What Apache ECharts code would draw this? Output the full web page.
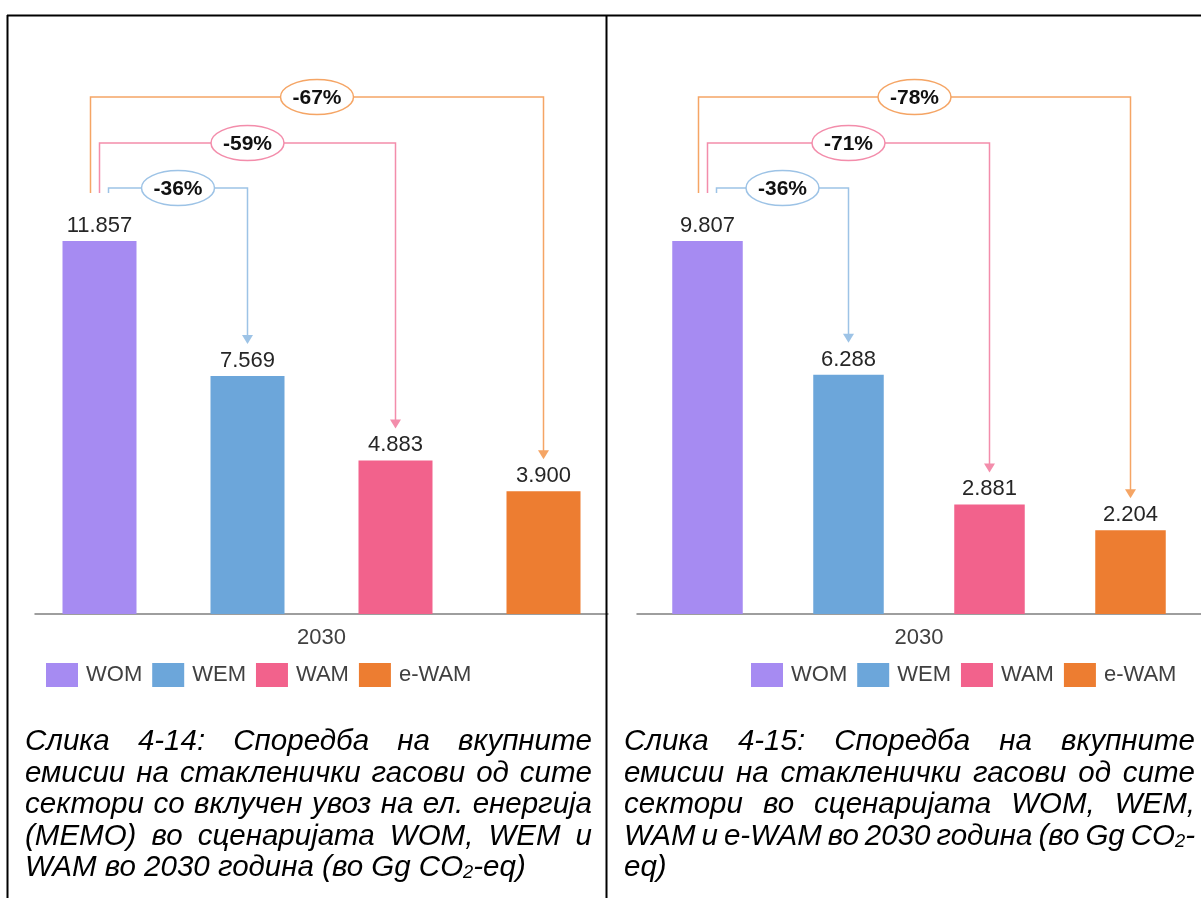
<!DOCTYPE html>
<html>
<head>
<meta charset="utf-8">
<script src="https://cdn.jsdelivr.net/npm/echarts@6/dist/echarts.min.js"></script>
<style>
    body { margin: 0; background: #fff; }
    #chart { position: absolute; left: 0; top: 0; width: 1201px; height: 898px; }
    .cap { position: absolute; top: 724px; font: italic 29.5px "Liberation Sans", Arial, sans-serif; line-height: 31.5px; color: #000; }
    .cap div { white-space: nowrap; }
    .cap sub { font-size: 0.62em; vertical-align: -0.12em; line-height: 0; }
</style>
</head>
<body>
<div id="chart"></div>
<div class="cap" id="capLeft" style="left:25px;"></div>
<div class="cap" id="capRight" style="left:624px;"></div>
<script>
// 数据
const categories = ['2030'];
const scenarios = ['WOM', 'WEM', 'WAM', 'e-WAM'];
const valuesLeft = [11857, 7569, 4883, 3900];
const valuesRight = [9807, 6288, 2881, 2204];
const pctLeft = ['-36%', '-59%', '-67%'];
const pctRight = ['-36%', '-71%', '-78%'];
const captionLeft = [
    'Слика 4-14: Споредба на вкупните',
    'емисии на стакленички гасови од сите',
    'сектори со вклучен увоз на ел. енергија',
    '(MEMO) во сценаријата WOM, WEM и',
    'WAM во 2030 година (во Gg CO<sub>2</sub>-eq)'
];
const captionRight = [
    'Слика 4-15: Споредба на вкупните',
    'емисии на стакленички гасови од сите',
    'сектори во сценаријата WOM, WEM,',
    'WAM и e-WAM во 2030 година (во Gg CO<sub>2</sub>-',
    'eq)'
];

const barColors = ['#A68BF2', '#6CA6DA', '#F2628C', '#ED7D31'];
const lineColors = ['#9DC3E6', '#F38DAB', '#F5A565'];
const font = '"Liberation Sans", Arial, sans-serif';

// 千位用点分隔
function fmt(v) {
    return String(v).replace(/\B(?=(\d{3})+(?!\d))/g, '.');
}

// 图注：每行两端对齐（最后一行左对齐）
function fillCaption(id, lines, width) {
    const box = document.getElementById(id);
    lines.forEach((t, i) => {
        const d = document.createElement('div');
        d.innerHTML = t;
        d.style.width = 'max-content';
        box.appendChild(d);
        if (i < lines.length - 1) {
            const natural = d.getBoundingClientRect().width;
            const spaces = (d.textContent.match(/ /g) || []).length;
            if (spaces > 0) {
                d.style.wordSpacing = ((width - natural) / spaces) + 'px';
            }
        }
    });
}
fillCaption('capLeft', captionLeft, 567);
fillCaption('capRight', captionRight, 571);

const chart = echarts.init(document.getElementById('chart'));

const panels = [
    { values: valuesLeft, pct: pctLeft, barWidth: 74 },
    { values: valuesRight, pct: pctRight, barWidth: 70.5 }
];

const series = [];
panels.forEach((p, pi) => {
    scenarios.forEach((name, i) => {
        series.push({
            type: 'bar',
            name: name,
            xAxisIndex: pi,
            yAxisIndex: pi,
            data: [p.values[i]],
            barWidth: p.barWidth,
            barGap: '100%',
            itemStyle: { color: barColors[i] },
            label: {
                show: true,
                position: 'top',
                distance: 4,
                fontSize: 22,
                fontFamily: font,
                color: '#262626',
                formatter: (d) => fmt(d.value)
            }
        });
    });
});

const xAxisBase = {
    type: 'category',
    data: categories,
    axisLine: { lineStyle: { color: '#7F7F7F', width: 1.5 } },
    axisTick: { show: false },
    axisLabel: { fontSize: 22, fontFamily: font, color: '#404040', margin: 13 }
};

const legendBase = {
    data: scenarios,
    top: 663,
    padding: 0,
    icon: 'rect',
    itemWidth: 32,
    itemHeight: 24,
    itemGap: 10,
    textStyle: { fontSize: 22, fontFamily: font, color: '#404040', padding: [0, 0, 0, 3] }
};

chart.setOption({
    animation: false,
    grid: [
        { left: 35, right: 593, top: 140, bottom: 284 },
        { left: 637, right: 0, top: 140, bottom: 284 }
    ],
    xAxis: [Object.assign({ gridIndex: 0 }, xAxisBase), Object.assign({ gridIndex: 1 }, xAxisBase)],
    yAxis: panels.map((p, pi) => ({
        type: 'value',
        gridIndex: pi,
        min: 0,
        max: p.values[0] * 474 / 373,
        show: false,
        splitLine: { show: false }
    })),
    legend: [
        Object.assign({ left: 46 }, legendBase),
        Object.assign({ left: 751 }, legendBase)
    ],
    series: series
});

// 取柱子位置
function barBox(seriesIndex) {
    const l = chart.getModel().getSeriesByIndex(seriesIndex).getData().getItemLayout(0);
    return { cx: l.x + l.width / 2, top: Math.min(l.y, l.y + l.height) };
}

const graphics = [
    { type: 'line', shape: { x1: 7, y1: 15.5, x2: 1201, y2: 15.5 }, style: { stroke: '#000', lineWidth: 2 }, z: 20 },
    { type: 'line', shape: { x1: 7.5, y1: 15, x2: 7.5, y2: 898 }, style: { stroke: '#000', lineWidth: 2 }, z: 20 },
    { type: 'line', shape: { x1: 606.5, y1: 15, x2: 606.5, y2: 898 }, style: { stroke: '#000', lineWidth: 2 }, z: 20 }
];

// 箭头和百分比
const startDx = [9, 0, -9];
const levelUp = [53, 98, 144];
panels.forEach((p, pi) => {
    const src = barBox(pi * 4);
    for (let k = 0; k < 3; k++) {
        const dst = barBox(pi * 4 + k + 1);
        const color = lineColors[k];
        const sx = src.cx + startDx[k];
        const sy = src.top - 48;
        const ly = src.top - levelUp[k];
        const tip = dst.top - 32;
        graphics.push({
            type: 'polyline',
            shape: { points: [[sx, sy], [sx, ly], [dst.cx, ly], [dst.cx, tip - 8]] },
            style: { stroke: color, lineWidth: 1.5, fill: null },
            z: 10
        });
        graphics.push({
            type: 'polygon',
            shape: { points: [[dst.cx - 5.5, tip - 9], [dst.cx + 5.5, tip - 9], [dst.cx, tip]] },
            style: { fill: color },
            z: 10
        });
        const mx = (sx + dst.cx) / 2;
        graphics.push({
            type: 'ellipse',
            shape: { cx: mx, cy: ly, rx: 36.5, ry: 17.5 },
            style: { fill: '#fff', stroke: color, lineWidth: 1.5 },
            z: 11
        });
        graphics.push({
            type: 'text',
            x: mx,
            y: ly + 1,
            style: {
                text: p.pct[k],
                align: 'center',
                verticalAlign: 'middle',
                fontSize: 21,
                fontWeight: 'bold',
                fontFamily: font,
                fill: '#111'
            },
            z: 12
        });
    }
});

chart.setOption({ graphic: graphics });
</script>
</body>
</html>
